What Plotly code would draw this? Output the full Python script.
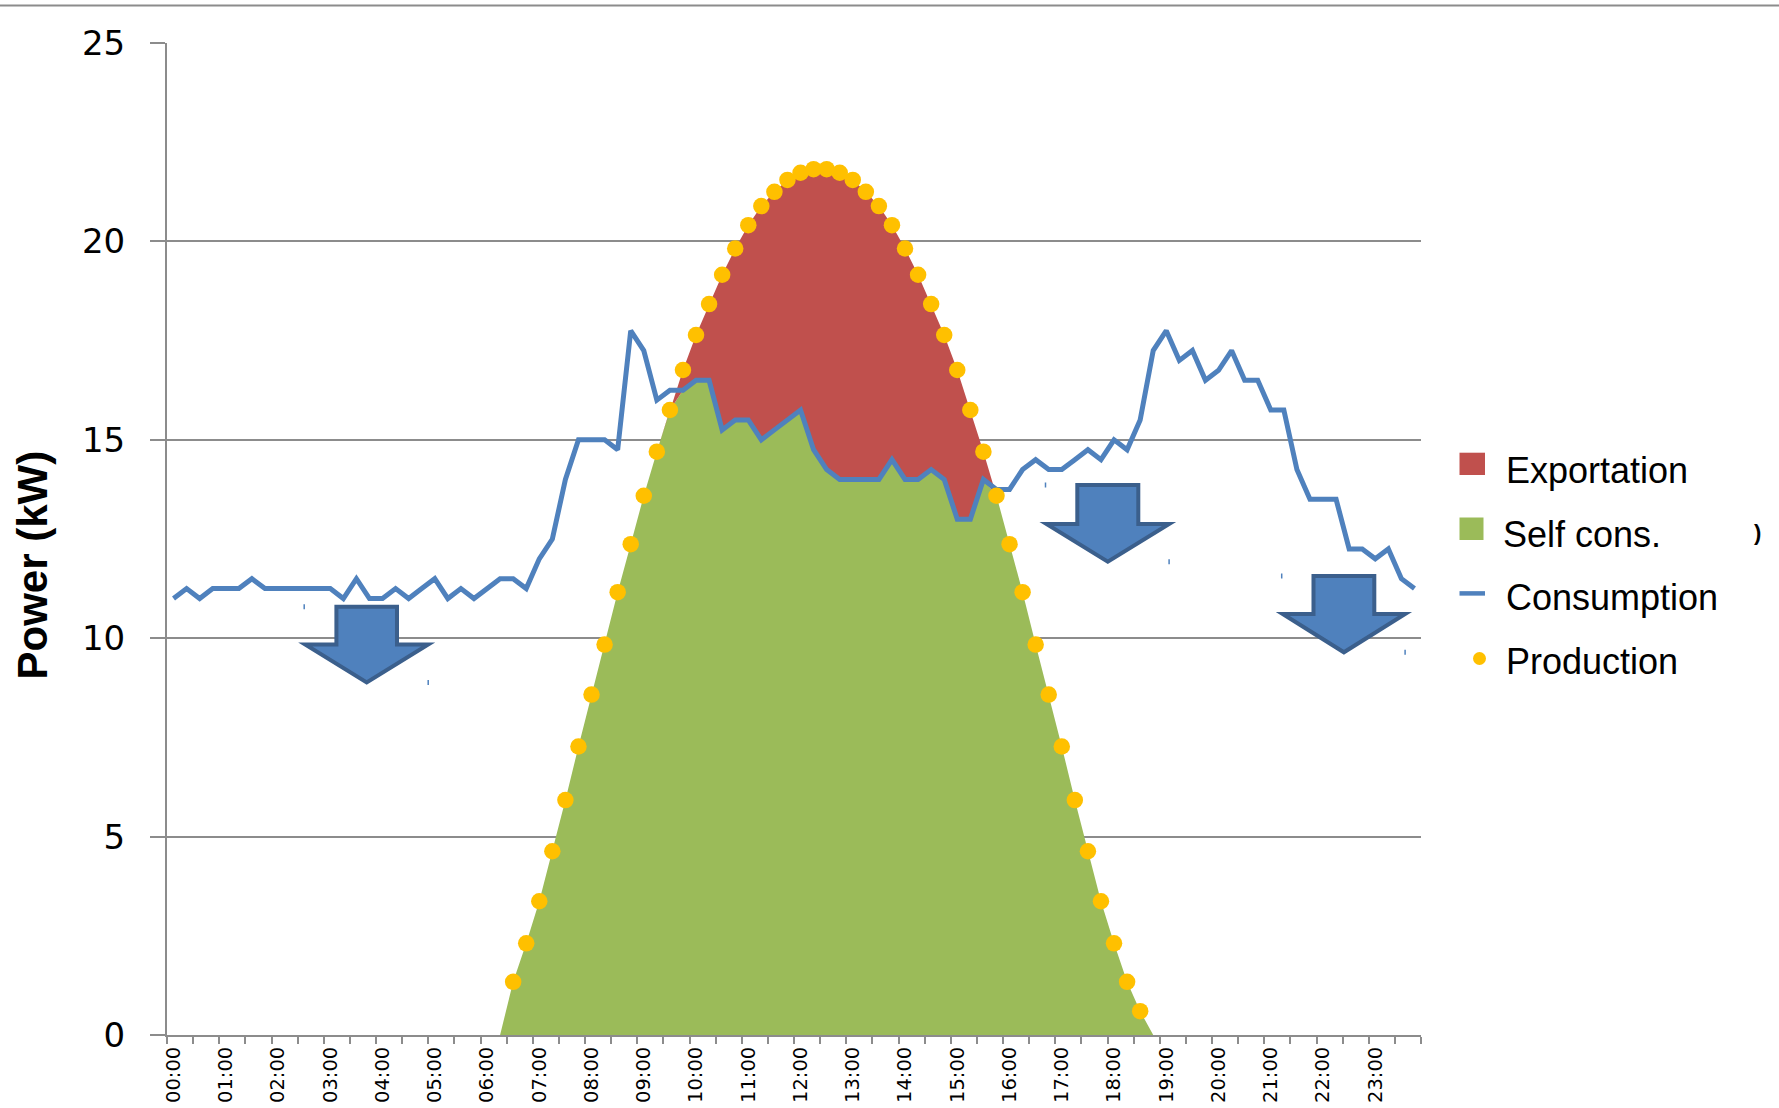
import plotly.graph_objects as go

# Quarter-hour slots over one day (0 = 00:00, 95 = 23:45)
slots = list(range(96))

hour_labels = ["00:00", "01:00", "02:00", "03:00", "04:00", "05:00",
               "06:00", "07:00", "08:00", "09:00", "10:00", "11:00",
               "12:00", "13:00", "14:00", "15:00", "16:00", "17:00",
               "18:00", "19:00", "20:00", "21:00", "22:00", "23:00"]

# Site consumption, kW per quarter hour
consumption = [
    11.0, 11.25, 11.0, 11.25, 11.25, 11.25, 11.5, 11.25,
    11.25, 11.25, 11.25, 11.25, 11.25, 11.0, 11.5, 11.0,
    11.0, 11.25, 11.0, 11.25, 11.5, 11.0, 11.25, 11.0,
    11.25, 11.5, 11.5, 11.25, 12.0, 12.5, 14.0, 15.0,
    15.0, 15.0, 14.75, 17.75, 17.25, 16.0, 16.25, 16.25,
    16.5, 16.5, 15.25, 15.5, 15.5, 15.0, 15.25, 15.5,
    15.75, 14.75, 14.25, 14.0, 14.0, 14.0, 14.0, 14.5,
    14.0, 14.0, 14.25, 14.0, 13.0, 13.0, 14.0, 13.75,
    13.75, 14.25, 14.5, 14.25, 14.25, 14.5, 14.75, 14.5,
    15.0, 14.75, 15.5, 17.25, 17.75, 17.0, 17.25, 16.5,
    16.75, 17.25, 16.5, 16.5, 15.75, 15.75, 14.25, 13.5,
    13.5, 13.5, 12.25, 12.25, 12.0, 12.25, 11.5, 11.25,
]

# PV production, kW per quarter hour
production = [
    0, 0, 0, 0, 0, 0, 0, 0,
    0, 0, 0, 0, 0, 0, 0, 0,
    0, 0, 0, 0, 0, 0, 0, 0,
    0, 0, 1.34, 2.31, 3.37, 4.63, 5.92, 7.27,
    8.58, 9.84, 11.16, 12.37, 13.59, 14.70, 15.75, 16.76,
    17.64, 18.42, 19.16, 19.82, 20.41, 20.89, 21.25, 21.55,
    21.73, 21.82, 21.82, 21.73, 21.55, 21.25, 20.89, 20.41,
    19.82, 19.16, 18.42, 17.64, 16.76, 15.75, 14.70, 13.59,
    12.37, 11.16, 9.84, 8.58, 7.27, 5.92, 4.63, 3.37,
    2.31, 1.34, 0.6, 0, 0, 0, 0, 0,
    0, 0, 0, 0, 0, 0, 0, 0,
    0, 0, 0, 0, 0, 0, 0, 0,
]

series_names = ["Exportation", "Self cons.", "Consumption", "Production"]

# Self-consumed part of production; the rest is exported
self_cons = [min(c, p) for c, p in zip(consumption, production)]
prod_slots = [s for s, p in zip(slots, production) if p > 0]
prod_vals = [p for p in production if p > 0]

RED = "#C0504D"
GREEN = "#9BBB59"
BLUE = "#4F81BD"
GOLD = "#FFC000"
GRID = "#8C8C8C"
ARROW_EDGE = "#3B5F8C"

W, H = 1779, 1108
L, R, T, B = 167, 358, 43, 73
PW, PH = W - L - R, H - T - B


def px(x):
    return (x - L) / PW


def py(y):
    return (H - B - y) / PH


fig = go.Figure()
fig.add_trace(go.Scatter(
    x=slots, y=self_cons, mode="lines", line=dict(width=0, color=GREEN),
    fill="tozeroy", fillcolor=GREEN, name=series_names[1], showlegend=False))
fig.add_trace(go.Scatter(
    x=slots, y=production, mode="lines", line=dict(width=0, color=RED),
    fill="tonexty", fillcolor=RED, name=series_names[0], showlegend=False))
fig.add_trace(go.Scatter(
    x=slots, y=consumption, mode="lines", line=dict(width=5, color=BLUE),
    name=series_names[2], showlegend=False))
fig.add_trace(go.Scatter(
    x=prod_slots, y=prod_vals, mode="markers",
    marker=dict(size=16.5, color=GOLD, line=dict(width=0)),
    name=series_names[3], showlegend=False))

shapes = []

# thin rule across the top of the page
shapes.append(dict(type="line", xref="paper", yref="paper",
                   x0=px(0), x1=px(W), y0=py(5.5), y1=py(5.5),
                   line=dict(color=GRID, width=2)))


# "down" block arrows: centre x, top y, shaft half width, head y, head half width, tip y
def down_arrow(cx, top, sw, hy, hw, tip):
    pts = [(cx - sw, top), (cx + sw, top), (cx + sw, hy), (cx + hw, hy),
           (cx, tip), (cx - hw, hy), (cx - sw, hy)]
    d = "M " + " L ".join(f"{px(x):.5f},{py(y):.5f}" for x, y in pts) + " Z"
    return dict(type="path", xref="paper", yref="paper", path=d,
                fillcolor=BLUE, line=dict(color=ARROW_EDGE, width=4))


arrows = [(366.7, 606.7, 30.3, 644.5, 61.5, 682.5),
          (1107.8, 485.0, 30.5, 524.0, 61.3, 561.7),
          (1343.9, 576.0, 30.4, 614.0, 61.2, 652.3)]
for a in arrows:
    shapes.append(down_arrow(*a))
    cx, top, sw, hy, hw, tip = a
    for mx, my in [(cx - hw - 1, top), (cx + hw, tip)]:
        shapes.append(dict(type="line", xref="paper", yref="paper",
                           x0=px(mx), x1=px(mx), y0=py(my - 2.5), y1=py(my + 2.5),
                           line=dict(color=BLUE, width=1.5)))

# legend keys
shapes.append(dict(type="rect", xref="paper", yref="paper",
                   x0=px(1459.5), x1=px(1485), y0=py(475), y1=py(452.7),
                   fillcolor=RED, line=dict(width=0)))
shapes.append(dict(type="rect", xref="paper", yref="paper",
                   x0=px(1459.5), x1=px(1483.5), y0=py(540), y1=py(517.5),
                   fillcolor=GREEN, line=dict(width=0)))
shapes.append(dict(type="line", xref="paper", yref="paper",
                   x0=px(1459.5), x1=px(1485), y0=py(593.4), y1=py(593.4),
                   line=dict(color=BLUE, width=4.5)))
shapes.append(dict(type="circle", xref="paper", yref="paper",
                   x0=px(1473), x1=px(1486), y0=py(665), y1=py(652),
                   fillcolor=GOLD, line=dict(width=0)))

legend_font = dict(family="Liberation Sans, Arial, sans-serif", size=36, color="black")
annotations = []
for name, lx, ly in [(series_names[0], 1504, 471.0),
                     (series_names[1], 1501, 534.4),
                     (series_names[2], 1504, 597.9),
                     (series_names[3], 1504, 661.5)]:
    annotations.append(dict(text=name, xref="paper", yref="paper",
                            x=px(lx), y=py(ly), xanchor="left", yanchor="middle",
                            showarrow=False, font=legend_font))

annotations.append(dict(text=")", xref="paper", yref="paper",
                        x=px(1757), y=py(532), xanchor="center", yanchor="middle",
                        showarrow=False,
                        font=dict(family="Liberation Sans, Arial, sans-serif",
                                  size=22, color="black", weight="bold")))

# y axis title
annotations.append(dict(text="<b>Power (kW)</b>", xref="paper", yref="paper",
                        x=px(32), y=py(565.5), xanchor="center", yanchor="middle",
                        textangle=-90, showarrow=False,
                        font=dict(family="Liberation Sans, Arial, sans-serif",
                                  size=42, color="black")))

fig.update_layout(
    width=W, height=H,
    margin=dict(l=L, r=R, t=T, b=B, pad=0, autoexpand=False),
    paper_bgcolor="white", plot_bgcolor="white",
    showlegend=False,
    shapes=shapes, annotations=annotations,
    xaxis=dict(
        range=[-0.5, 95.5], tickmode="array",
        tickvals=list(range(0, 96, 4)), ticktext=hour_labels,
        tickangle=-90, ticks="", ticklen=0, ticklabelstandoff=2,
        automargin=False,
        tickfont=dict(family="DejaVu Sans", size=19.5, color="black"),
        showgrid=False, zeroline=False,
        showline=True, linecolor=GRID, linewidth=2,
        minor=dict(tickmode="array", tickvals=[-0.5 + 2 * k for k in range(49)],
                   ticks="outside", ticklen=7, tickwidth=1.5, tickcolor=GRID,
                   showgrid=False),
    ),
    yaxis=dict(
        range=[0, 25], tickmode="array", tickvals=[0, 5, 10, 15, 20, 25],
        ticks="outside", ticklen=15, tickwidth=1.6, tickcolor=GRID,
        ticklabelstandoff=18, automargin=False,
        tickfont=dict(family="DejaVu Sans", size=34, color="black"),
        showgrid=True, gridcolor=GRID, gridwidth=1.6, zeroline=False,
        showline=True, linecolor=GRID, linewidth=2,
    ),
)

fig.write_html("out.html")
